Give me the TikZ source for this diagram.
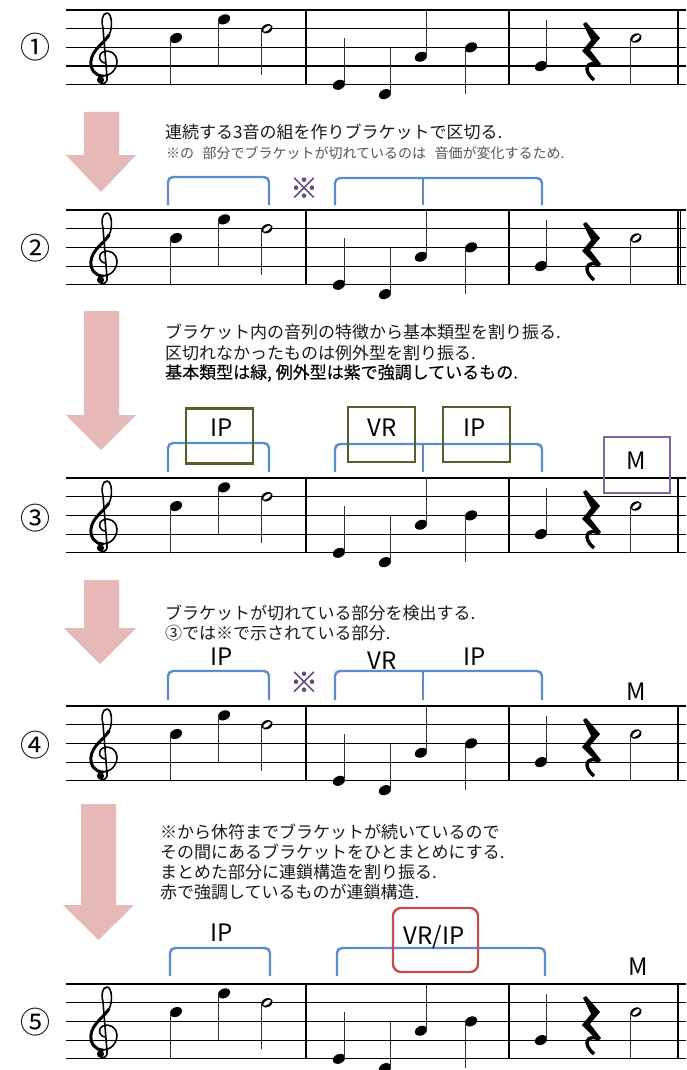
\documentclass[tikz,border=0pt]{standalone}
\usepackage{fontspec}
\setmainfont{Noto Sans CJK JP}
\definecolor{arrowpink}{HTML}{E6B9B8}
\definecolor{brblue}{HTML}{5B8CCB}
\definecolor{bxgreen}{HTML}{4F6228}
\definecolor{bxpurple}{HTML}{8064A2}
\definecolor{kome}{HTML}{604A7B}
\definecolor{bxred}{HTML}{C0504D}
\definecolor{txtdark}{HTML}{1A1A1A}
\definecolor{txtgrey}{HTML}{555555}
\tikzset{
  staffline/.style={line width=1.2pt, black},
  barline/.style={line width=1.3pt, black},
  stemline/.style={line width=1.1pt, black!80},
  bracketline/.style={brblue, line width=2.4pt, rounded corners=5pt},
  ticksline/.style={brblue, line width=2.4pt},
  greenbox/.style={draw=bxgreen, line width=2.2pt, inner sep=0pt, minimum width=67pt, minimum height=55pt},
  purplebox/.style={draw=bxpurple, line width=2.4pt, inner sep=0pt, minimum width=66pt, minimum height=56pt},
  redbox/.style={draw=bxred, line width=2.4pt, rounded corners=8pt, inner sep=0pt, minimum width=85pt, minimum height=64pt},
  lab/.style={inner sep=0pt, font=\fontsize{24}{26}\selectfont, text=black},
  kom/.style={inner sep=0pt, font=\fontsize{28}{30}\selectfont\addfontfeature{FakeBold=1}, text=kome},
  circnum/.style={inner sep=0pt, font=\fontsize{30}{32}\selectfont},
  maintext/.style={anchor=west, inner sep=0pt, font=\fontsize{17}{20}\selectfont, text=txtdark},
  smalltext/.style={anchor=west, inner sep=0pt, font=\fontsize{14}{16}\selectfont, text=txtgrey},
  arrowfill/.style={fill=arrowpink},
  fhead/.pic={\fill[rotate=25] (0,0) ellipse [x radius=6.4, y radius=4.7];},
  hhead/.pic={\fill[rotate=25] (0,0) ellipse [x radius=6, y radius=4.4];
              \fill[white, rotate=35] (0,0) ellipse [x radius=4.4, y radius=2];}
}
% treble clef, coordinates relative to the staff top (y downwards)
\newcommand\trebleclef{%
  \begin{scope}[shift={(0,-10)}]
  \draw[line width=1.6pt, line cap=round, line join=round]
    (106,63) .. controls (99,63) and (97,55) .. (103,52)
    .. controls (110,49) and (117,54) .. (117,61)
    .. controls (117,70) and (110,76) .. (103,76)
    .. controls (95,76) and (90,69) .. (91,61)
    .. controls (92,50) and (104,43) .. (109,35)
    .. controls (113,28) and (112,13) .. (107,13)
    .. controls (102,13) and (101,22) .. (103,28)
    -- (107,77)
    .. controls (108,84) and (102,85) .. (100,82);
  \draw[line width=3pt, line cap=round]
    (103,76) .. controls (95,76) and (90,69) .. (91,61)
    .. controls (92,50) and (104,43) .. (109,35);
  \fill (100.5,80) circle (3.6);
  \end{scope}}
\newcommand\quarterrest{%
  \fill (583,14) -- (586,12) -- (600,28) -- (590,40) -- (601,54) -- (598,57)
        -- (582,41) -- (591,30) -- cycle;
  \draw[line width=3.4pt] (599,55) .. controls (588,50) and (581,59) .. (594,70);}
\newcommand\musstaff[1]{%
\begin{scope}[shift={(0,#1)}]
  \foreach \k in {0,...,4} \draw[staffline] (66,\k*18.7) -- (686,\k*18.7);
  \draw[barline] (306,0) -- (306,74.8);
  \draw[barline] (509,0) -- (509,74.8);
  \draw[barline] (678,0) -- (678,74.8);
  \trebleclef
  \pic at (176,28.05) {fhead}; \draw[stemline] (170.3,28.05) -- ++(0,46.5);
  \pic at (224,9.35) {fhead}; \draw[stemline] (218.3,9.35) -- ++(0,46.5);
  \pic at (267,18.7) {hhead}; \draw[stemline] (261.5,18.7) -- ++(0,46.5);
  \pic at (339,74.8) {fhead}; \draw[stemline] (344.7,74.8) -- ++(0,-46.5);
  \pic at (385,84.15) {fhead}; \draw[stemline] (390.7,84.15) -- ++(0,-46.5);
  \pic at (421,46.75) {fhead}; \draw[stemline] (426.7,46.75) -- ++(0,-46.5);
  \pic at (471,37.4) {fhead}; \draw[stemline] (465.3,37.4) -- ++(0,46.5);
  \pic at (541,56.1) {fhead}; \draw[stemline] (546.7,56.1) -- ++(0,-46.5);
  \quarterrest
  \pic at (636,28.05) {hhead}; \draw[stemline] (630.5,28.05) -- ++(0,46.5);
\end{scope}}
\begin{document}
\begin{tikzpicture}[x=1pt,y=-1pt]
\useasboundingbox (0,0) rectangle (686,1070);
\fill[white] (0,0) rectangle (686,1070);

% staves
\musstaff{10}
\musstaff{210}
\draw[barline] (680.5,210) -- (680.5,284.8);
\musstaff{478}
\musstaff{706}
\musstaff{984}

% circled numbers
\node[circnum] (n1) at (35,47) {①};
\node[circnum] (n2) at (35,248) {②};
\node[circnum] (n3) at (35,518) {③};
\node[circnum] (n4) at (35,745) {④};
\node[circnum] (n5) at (35,1022) {⑤};

% arrows
\fill[arrowfill] (84,112) -- (119,112) -- (119,155) -- (136,155) -- (101,192) -- (66,155) -- (84,155) -- cycle;
\fill[arrowfill] (84,311) -- (119,311) -- (119,415) -- (136,415) -- (101,450) -- (66,415) -- (84,415) -- cycle;
\fill[arrowfill] (84,580) -- (119,580) -- (119,628) -- (136,628) -- (100,664) -- (64,628) -- (84,628) -- cycle;
\fill[arrowfill] (81,804) -- (116,804) -- (116,905) -- (134,905) -- (98.5,940) -- (63,905) -- (81,905) -- cycle;

% texts
\node[maintext] (t1a) at (165,132) {連続する3音の組を作りブラケットで区切る.};
\node[smalltext] (t1b) at (166,153) {※の\hspace{0.6em}部分でブラケットが切れているのは\hspace{0.6em}音価が変化するため.};
\node[maintext] (t2a) at (165,332) {ブラケット内の音列の特徴から基本類型を割り振る.};
\node[maintext] (t2b) at (165,353) {区切れなかったものは例外型を割り振る.};
\node[maintext, text=black] (t2c) at (165,373) {\addfontfeature{FakeBold=0.25}基本類型は緑, 例外型は紫で強調しているもの.};
\node[maintext] (t3a) at (165,613) {ブラケットが切れている部分を検出する.};
\node[maintext] (t3b) at (165,633) {③では※で示されている部分.};
\node[maintext] (t4a) at (160,832) {※から休符までブラケットが続いているので};
\node[maintext] (t4b) at (160,852) {その間にあるブラケットをひとまとめにする.};
\node[maintext] (t4c) at (160,872) {まとめた部分に連鎖構造を割り振る.};
\node[maintext] (t4d) at (160,892) {赤で強調しているものが連鎖構造.};

% step 2 brackets
\draw[bracketline] (168,205) -- (168,177) -- (269,177) -- (269,205);
\draw[bracketline] (335,205) -- (335,178) -- (542,178) -- (542,205);
\draw[ticksline] (423,178) -- (423,205);
\node[kom] (k2) at (304,188) {※};

% step 3 brackets and boxes
\draw[bracketline] (168,472) -- (168,443) -- (269,443) -- (269,472);
\draw[bracketline] (335,472) -- (335,444) -- (542,444) -- (542,472);
\draw[ticksline] (423,444) -- (423,472);
\node[greenbox] (g1) at (219.5,436) {};
\node[greenbox] (g2) at (381.5,434.5) {};
\node[greenbox] (g3) at (476.5,434.5) {};
\node[purplebox] (p1) at (637,465) {};
\node[lab] (l3a) at (222,428) {IP};
\node[lab] (l3b) at (382,428) {VR};
\node[lab] (l3c) at (475,428) {IP};
\node[lab] (l3d) at (636,461) {M};

% step 4
\draw[bracketline] (168,700) -- (168,671) -- (269,671) -- (269,700);
\draw[bracketline] (335,700) -- (335,671) -- (542,671) -- (542,700);
\draw[ticksline] (423,671) -- (423,700);
\node[kom] (k4) at (304,682) {※};
\node[lab] (l4a) at (222,657) {IP};
\node[lab] (l4b) at (382,661) {VR};
\node[lab] (l4c) at (475,657) {IP};
\node[lab] (l4d) at (636,692) {M};

% step 5
\draw[bracketline] (170,976) -- (170,948) -- (270,948) -- (270,976);
\draw[bracketline] (337,976) -- (337,948) -- (545,948) -- (545,976);
\node[redbox] (r1) at (435.5,940) {};
\node[lab] (l5a) at (222,933) {IP};
\node[lab] (l5b) at (434,937) {VR/IP};
\node[lab] (l5c) at (638,967) {M};
\end{tikzpicture}
\end{document}
